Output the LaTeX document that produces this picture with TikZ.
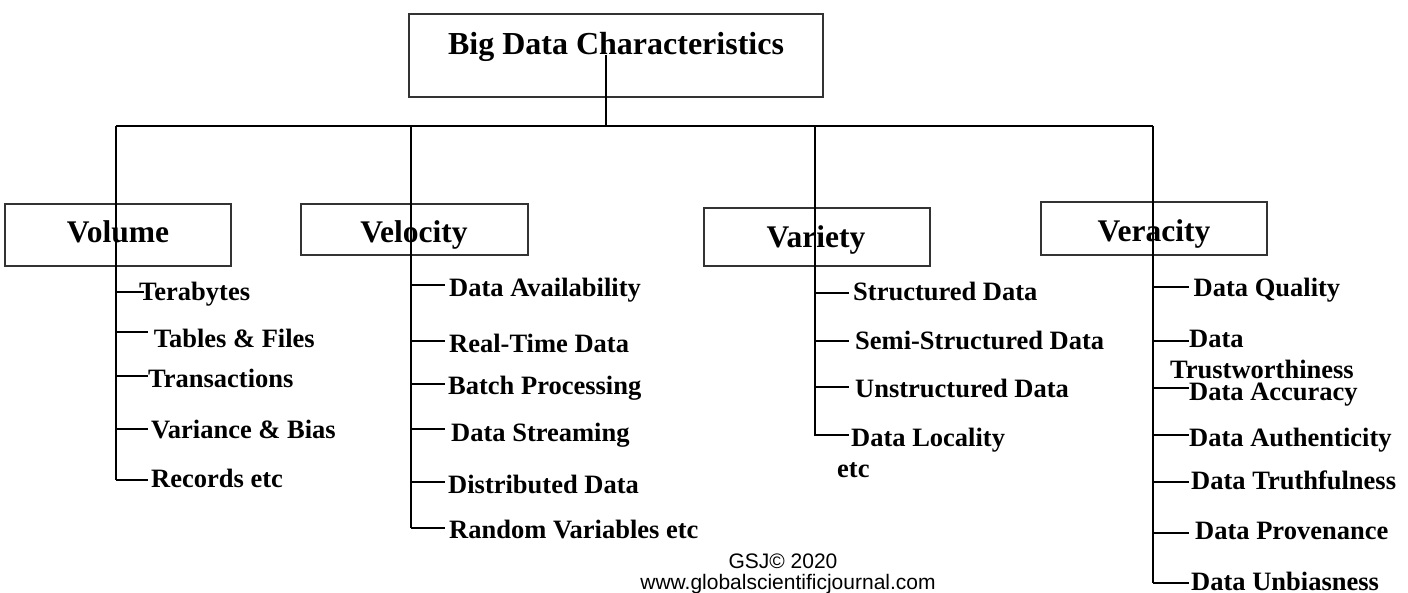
\documentclass[tikz,border=0pt]{standalone}
\usepackage{fontspec}
\setmainfont{Liberation Serif}
\newfontfamily\footfont{Liberation Sans}
\begin{document}
\begin{tikzpicture}[x=1pt,y=-1pt,
  box/.style={draw=black!80,line width=1.2pt,fill=white,inner sep=0pt,outer sep=0pt},
  conn/.style={draw=black,line width=1.9pt},
  head/.style={anchor=base,inner sep=0pt,font=\fontsize{31.5}{36}\selectfont\bfseries},
  title/.style={anchor=base,inner sep=0pt,font=\fontsize{32}{36}\selectfont\bfseries},
  item/.style={anchor=base west,inner sep=0pt,font=\fontsize{26.5}{30}\selectfont\bfseries},
  foot/.style={anchor=base,inner sep=0pt,font=\fontsize{21}{24}\footfont}]
\useasboundingbox[fill=white] (0,0) rectangle (1408,593);

% boxes
\node[box,minimum width=414pt,minimum height=83pt] (topbox) at (616,55.5) {};
\node[box,minimum width=226pt,minimum height=62pt] (volbox) at (118,235) {};
\node[box,minimum width=227pt,minimum height=51pt] (velbox) at (414.5,229.5) {};
\node[box,minimum width=226pt,minimum height=58pt] (varbox) at (817,237) {};
\node[box,minimum width=226pt,minimum height=53pt] (verbox) at (1154,228.5) {};

% connector coordinates
\coordinate (topstart) at (606,55);
\coordinate (hub) at (606,126);
\coordinate (busL) at (116,126);
\coordinate (busR) at (1153,126);
\coordinate (velTop) at (411,126);
\coordinate (varTop) at (815,126);
\coordinate (volEnd) at (116,480);
\coordinate (velEnd) at (411,528);
\coordinate (varEnd) at (815,436);
\coordinate (verEnd) at (1153,583);

\draw[conn] (topstart) -- (hub);
\draw[conn] (busL) -- (busR);
\draw[conn] (busL) -- (volEnd);
\draw[conn] (velTop) -- (velEnd);
\draw[conn] (varTop) -- (varEnd);
\draw[conn] (busR) -- (verEnd);

% headings
\node[title] (title) at (616,55) {Big Data Characteristics};
\node[head] (volume) at (118,243) {Volume};
\node[head] (velocity) at (414,243) {Velocity};
\node[head] (variety) at (816,248) {Variety};
\node[head] (veracity) at (1154,242) {Veracity};

% Volume items
\foreach \n/\y/\xe/\tx/\by/\t in {
  a/292/144/139/301/Terabytes,
  b/332/148/153.6/347.7/Tables \& Files,
  c/376/148/148/388/Transactions,
  d/429/148/151/438/Variance \& Bias,
  e/480/148/151/487/Records etc}{
  \coordinate (vol-\n-s) at (116,\y);
  \coordinate (vol-\n-e) at (\xe,\y);
  \draw[conn] (vol-\n-s) -- (vol-\n-e);
  \node[item] (vol-\n) at (\tx,\by) {\t};
}

% Velocity items
\foreach \n/\y/\tx/\by/\t in {
  a/285/449/297/Data Availability,
  b/341/449/353/Real-Time Data,
  c/384/448/395/Batch Processing,
  d/429/451/441/Data Streaming,
  e/482/448/493/Distributed Data,
  f/528/449/538/Random Variables etc}{
  \coordinate (vel-\n-s) at (411,\y);
  \coordinate (vel-\n-e) at (445,\y);
  \draw[conn] (vel-\n-s) -- (vel-\n-e);
  \node[item] (vel-\n) at (\tx,\by) {\t};
}

% Variety items
\foreach \n/\y/\tx/\by/\t in {
  a/293/853/301/Structured Data,
  b/341/855/350/Semi-Structured Data,
  c/387/855/397/Unstructured Data,
  d/435/851/446/Data Locality}{
  \coordinate (var-\n-s) at (815,\y);
  \coordinate (var-\n-e) at (849,\y);
  \draw[conn] (var-\n-s) -- (var-\n-e);
  \node[item] (var-\n) at (\tx,\by) {\t};
}
\node[item] (var-etc) at (837,477) {etc};

% Veracity items
\foreach \n/\y/\tx/\by/\t in {
  a/287/1193.5/297/Data Quality,
  b/341/1189/348/Data,
  c/388/1189/400/Data Accuracy,
  d/435/1189/446/Data Authenticity,
  e/482/1191/489/Data Truthfulness,
  f/533/1195/539/Data Provenance,
  g/583/1191/590/Data Unbiasness}{
  \coordinate (ver-\n-s) at (1153,\y);
  \coordinate (ver-\n-e) at (1189,\y);
  \draw[conn] (ver-\n-s) -- (ver-\n-e);
  \node[item] (ver-\n) at (\tx,\by) {\t};
}
\node[item] (ver-trust) at (1170,379) {Trustworthiness};

% footer
\node[foot] (gsj) at (783,568) {GSJ© 2020};
\node[foot] (url) at (788,589) {www.globalscientificjournal.com};
\end{tikzpicture}
\end{document}
